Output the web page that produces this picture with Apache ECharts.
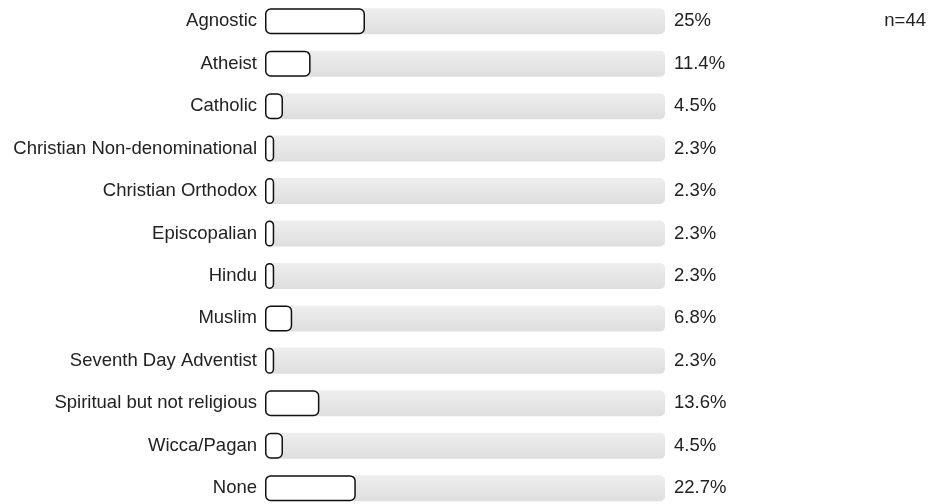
<!DOCTYPE html>
<html>
<head>
<meta charset="utf-8">
<script src="https://cdn.jsdelivr.net/npm/echarts@6/dist/echarts.min.js"></script>
<style>html,body{margin:0;padding:0;background:#fff;overflow:hidden}#c{width:949px;height:510px}</style>
</head>
<body>
<div id="c"></div>
<script>
const categories = ["Agnostic","Atheist","Catholic","Christian Non-denominational","Christian Orthodox","Episcopalian","Hindu","Muslim","Seventh Day Adventist","Spiritual but not religious","Wicca/Pagan","None"];
const percentages = [25, 11.4, 4.5, 2.3, 2.3, 2.3, 2.3, 6.8, 2.3, 13.6, 4.5, 22.7];
const sampleLabel = "n=44";

const chart = echarts.init(document.getElementById('c'));
const font = 'Arial, "Liberation Sans", sans-serif';
chart.setOption({
  animation: false,
  title: {
    text: sampleLabel, right: 18, top: 6,
    textStyle: {fontFamily: font, fontSize: 18.5, fontWeight: 'normal', color: '#222'}
  },
  grid: {left: 265, right: 284, top: 0, bottom: 0.6},
  xAxis: {type: 'value', min: 0, max: 100, show: false},
  yAxis: [
    {
      type: 'category', data: categories, inverse: true,
      axisLine: {show: false}, axisTick: {show: false}, splitLine: {show: false},
      axisLabel: {margin: 8, fontFamily: font, fontSize: 18.5, color: '#222'}
    },
    {
      type: 'category', data: percentages.map(v => v + '%'), inverse: true, position: 'right',
      axisLine: {show: false}, axisTick: {show: false}, splitLine: {show: false},
      axisLabel: {margin: 9, fontFamily: font, fontSize: 18.5, color: '#222', align: 'left'}
    }
  ],
  series: [{
    type: 'bar',
    data: percentages,
    barWidth: 26,
    showBackground: true,
    backgroundStyle: {
      color: new echarts.graphic.LinearGradient(0, 0, 0, 1, [
        {offset: 0, color: '#eeeeee'}, {offset: 1, color: '#dedede'}
      ]),
      borderRadius: 5
    },
    itemStyle: {color: '#ffffff', borderColor: '#111111', borderWidth: 1.5, borderRadius: 5}
  }]
});
</script>
</body>
</html>
